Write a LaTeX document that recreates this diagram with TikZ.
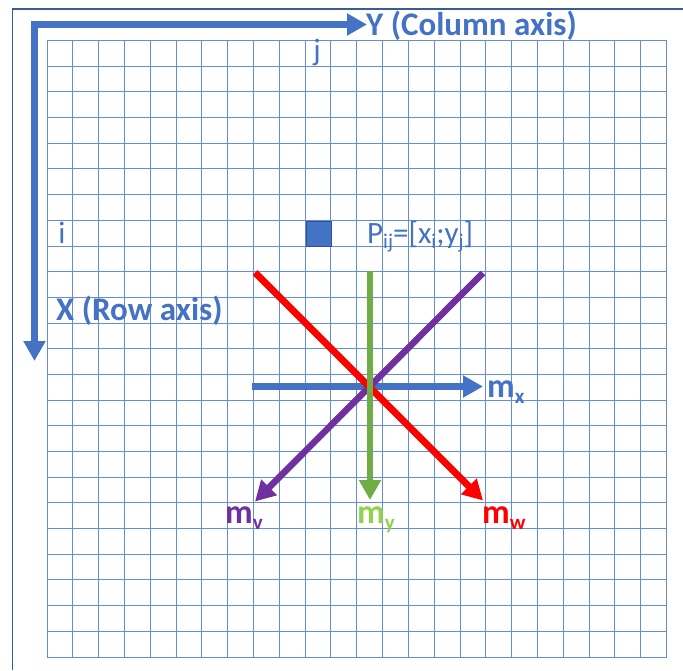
\documentclass[tikz,border=0pt]{standalone}
\usepackage{fontspec}
\setmainfont{Carlito}
\usetikzlibrary{arrows.meta}
\definecolor{axisblue}{HTML}{4472C4}
\definecolor{gridblue}{RGB}{100,140,215}
\definecolor{framec}{RGB}{60,90,150}
\definecolor{mred}{HTML}{FF0000}
\definecolor{mpurple}{HTML}{7030A0}
\definecolor{mgreen}{HTML}{70AD47}
\definecolor{lgreen}{HTML}{92D050}
\definecolor{sqborder}{HTML}{2F528F}
\newcommand\mysub[2][6pt]{\raisebox{-#1}{\fontsize{21}{21}\selectfont #2}}
\begin{document}
\begin{tikzpicture}[x=1pt,y=-1pt,
  gridline/.style={draw=gridblue, line width=1pt},
  bigarrow/.style={line width=6.5pt, -{Triangle[length=20pt,width=21pt]}},
  lbl/.style={font=\fontsize{33}{33}\selectfont\bfseries, inner sep=0pt, anchor=base west},
  mlbl/.style={font=\fontsize{34}{34}\selectfont\bfseries, inner sep=0pt, anchor=base west},
  txt/.style={font=\fontsize{31}{31}\selectfont, inner sep=0pt, text=axisblue},
]
\useasboundingbox (0,0) rectangle (683,670);
\draw[framec, line width=1.5pt] (12.5,670) -- (12.5,9) -- (683,9);
\foreach \k in {0,...,24} {
  \draw[gridline] ({47+25.8125*\k},40.5) -- ({47+25.8125*\k},657);
  \draw[gridline] (47,{40.5+25.6875*\k}) -- (666.5,{40.5+25.6875*\k});
}
% axes
\coordinate (corner) at (34.5,24.5);
\coordinate (xtip) at (34.5,361);
\coordinate (ytip) at (367,24.5);
\draw[axisblue, line width=6.5pt, line join=miter,
  {Triangle[length=20pt,width=21pt]}-{Triangle[length=20pt,width=21pt]}] (xtip) -- (corner) -- (ytip);
\node[lbl, text=axisblue] (ylab) at (366,35) {Y (Column axis)};
\node[lbl, text=axisblue] (xlab) at (56,320) {X (Row axis)};
\node[txt, anchor=base] (ilab) at (62,243) {i};
\node[txt, anchor=base] (jlab) at (317,60) {j};
\node[draw=sqborder, fill=axisblue, minimum size=25pt, inner sep=0pt, line width=1pt] (pt) at (318.5,233.5) {};
\node[txt, anchor=base west] (plab) at (367,243) {P\mysub[5pt]{ij}=[x\mysub[5pt]{i};y\mysub[5pt]{j}]};
% vectors
\coordinate (mxs) at (252,386.5);
\coordinate (mxe) at (483,386.5);
\coordinate (mys) at (370,271);
\coordinate (mye) at (370,500);
\coordinate (mws) at (255,272.5);
\coordinate (mwe) at (483,500.5);
\coordinate (mvs) at (483,273);
\coordinate (mve) at (255,501.5);
\draw[bigarrow, axisblue] (mxs) -- (mxe);
\draw[bigarrow, mpurple] (mvs) -- (mve);
\draw[bigarrow, mred, line width=7pt] (mws) -- (mwe);
\draw[bigarrow, mgreen] (mys) -- (mye);
\node[mlbl, text=axisblue] (mxl) at (487,397) {m\mysub{x}};
\node[mlbl, text=mpurple] (mvl) at (225,523) {m\mysub{v}};
\node[mlbl, text=lgreen] (myl) at (357,523) {m\mysub{y}};
\node[mlbl, text=mred] (mwl) at (482,523) {m\mysub{w}};
\end{tikzpicture}
\end{document}
